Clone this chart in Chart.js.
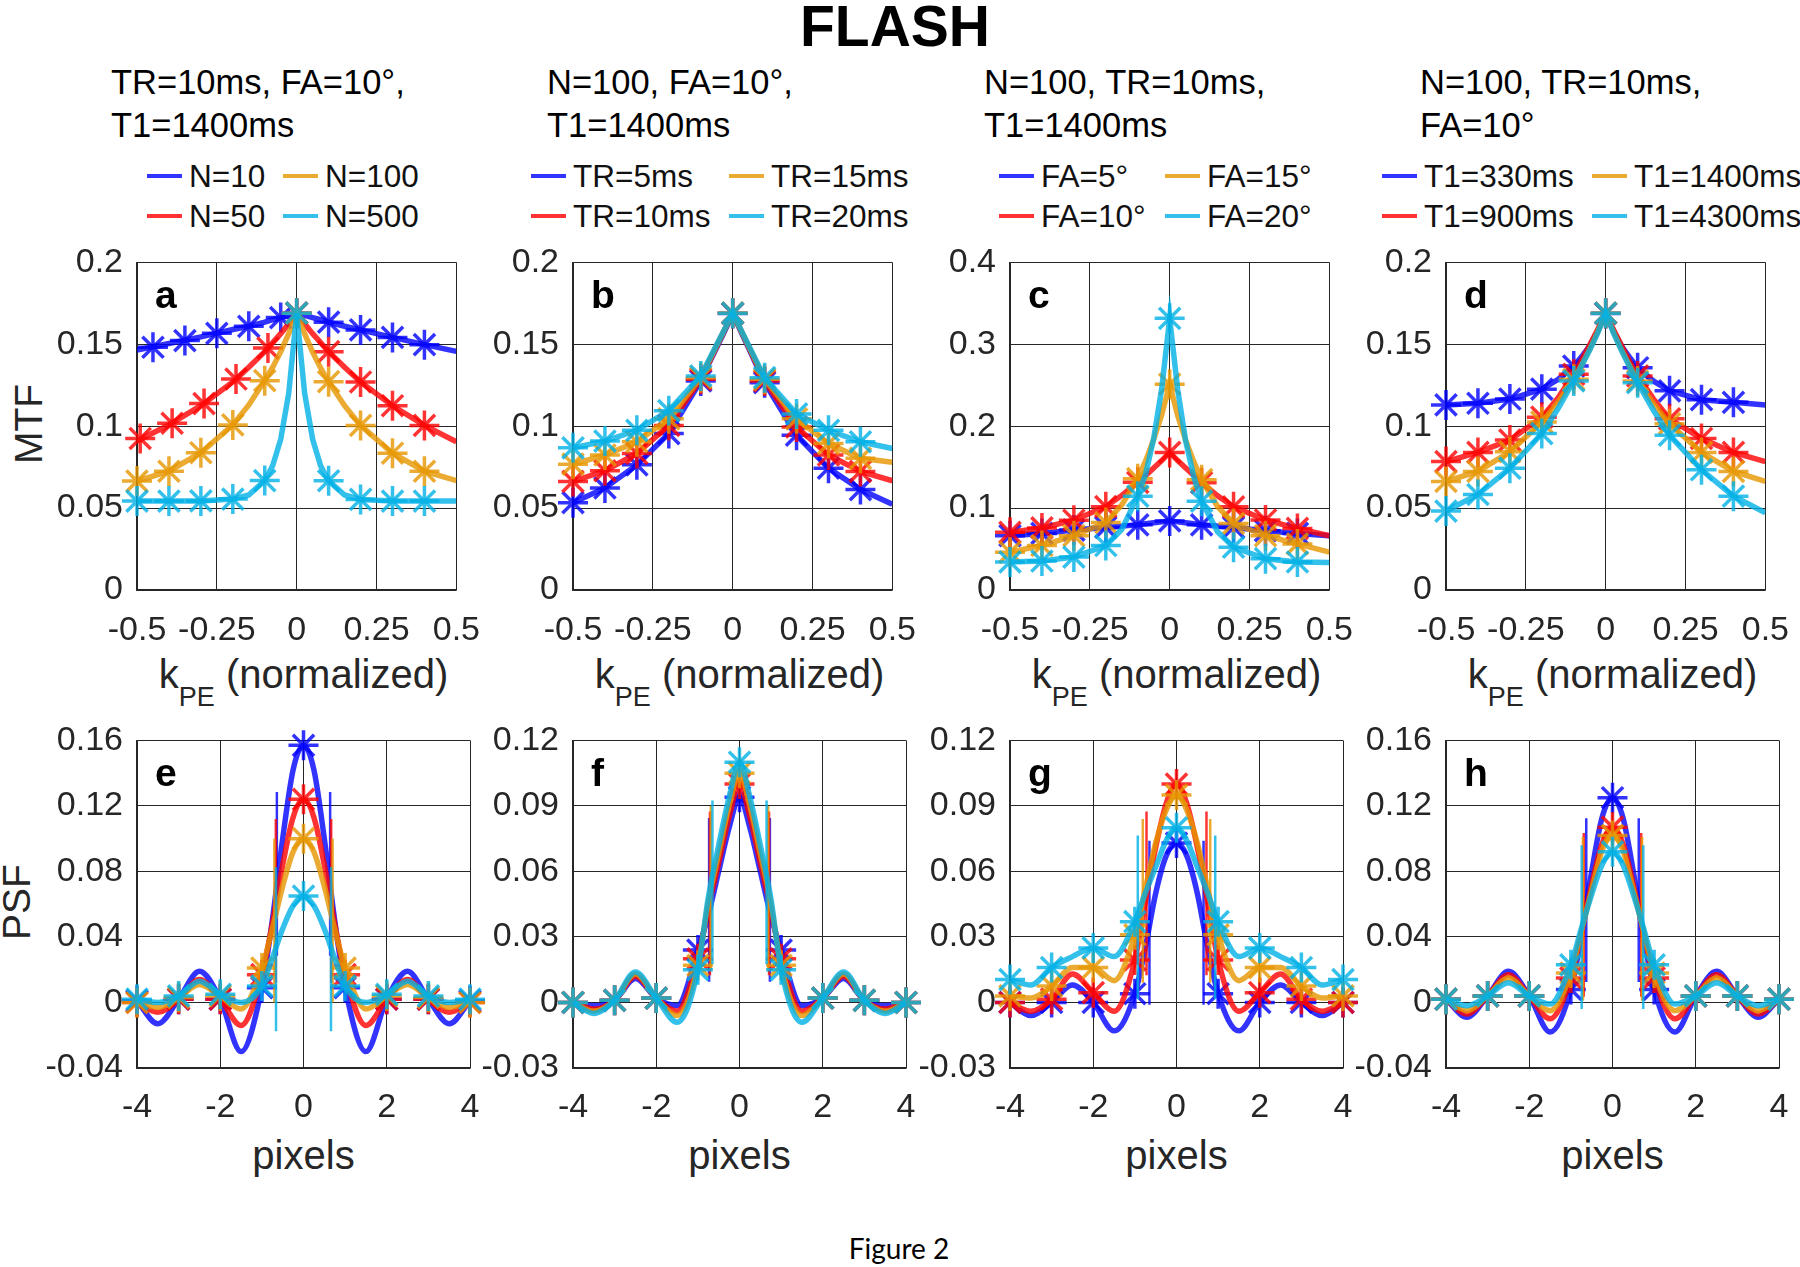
<!DOCTYPE html>
<html>
<head>
<meta charset="utf-8">
<script src="https://cdn.jsdelivr.net/npm/chart.js@4.4.1/dist/chart.umd.min.js"></script>
<style>
html, body { margin: 0; padding: 0; background: #fff; }
body { width: 1800px; height: 1267px; position: relative; overflow: hidden; font-family: "Liberation Sans", Arial, sans-serif; color: #000; }
.t { position: absolute; white-space: nowrap; line-height: 1; }
canvas { position: absolute; }
</style>
</head>
<body>
<script>
// sample positions
const kGrid = [-0.5, -0.4, -0.3, -0.2, -0.15, -0.1, -0.075, -0.05, -0.025, 0, 0.025, 0.05, 0.075, 0.1, 0.15, 0.2, 0.3, 0.4, 0.5];
const kMarks = [-0.5, -0.4, -0.3, -0.2, -0.1, 0, 0.1, 0.2, 0.3, 0.4];
const pxGrid = [-4, -3.5, -3, -2.5, -2, -1.5, -1, -0.75, -0.5, -0.25, 0, 0.25, 0.5, 0.75, 1, 1.5, 2, 2.5, 3, 3.5, 4];
const pxMarks = [-4, -3, -2, -1, 0, 1, 2, 3, 4];

// tick labels
const mtfXTicks = [-0.5, -0.25, 0, 0.25, 0.5];
const psfXTicks = [-4, -2, 0, 2, 4];
const mtfYTicks = [0, 0.05, 0.1, 0.15, 0.2];
const mtfYTicksC = [0, 0.1, 0.2, 0.3, 0.4];
const psfYTicks = [-0.04, 0, 0.04, 0.08, 0.12, 0.16];
const psfYTicksFG = [-0.03, 0, 0.03, 0.06, 0.09, 0.12];

// legend labels and panel headers
const labelsA = ['N=10', 'N=50', 'N=100', 'N=500'];
const labelsB = ['TR=5ms', 'TR=10ms', 'TR=15ms', 'TR=20ms'];
const labelsC = ['FA=5°', 'FA=10°', 'FA=15°', 'FA=20°'];
const labelsD = ['T1=330ms', 'T1=900ms', 'T1=1400ms', 'T1=4300ms'];
const headA = ['TR=10ms, FA=10°,', 'T1=1400ms'];
const headB = ['N=100, FA=10°,', 'T1=1400ms'];
const headC = ['N=100, TR=10ms,', 'T1=1400ms'];
const headD = ['N=100, TR=10ms,', 'FA=10°'];

// a: MTF vs N
const mtfA_N10 = [0.1465, 0.1505, 0.1545, 0.159, 0.161, 0.1635, 0.165, 0.1663, 0.1677, 0.169, 0.1677, 0.1663, 0.165, 0.1635, 0.161, 0.1588, 0.1542, 0.1498, 0.1457];
const mtfA_N50 = [0.091, 0.1008, 0.1125, 0.127, 0.136, 0.1455, 0.151, 0.1565, 0.1625, 0.169, 0.1625, 0.1565, 0.151, 0.1455, 0.136, 0.127, 0.1125, 0.1005, 0.0905];
const mtfA_N100 = [0.0665, 0.0725, 0.0838, 0.1008, 0.113, 0.1278, 0.136, 0.1455, 0.1565, 0.169, 0.1563, 0.1452, 0.1355, 0.1272, 0.1125, 0.1005, 0.0835, 0.0725, 0.0668];
const mtfA_N500 = [0.0543, 0.0543, 0.0544, 0.0555, 0.058, 0.0668, 0.076, 0.092, 0.12, 0.169, 0.12, 0.092, 0.0758, 0.0667, 0.058, 0.0553, 0.0543, 0.0543, 0.0543];
const markA_N10_k = [-0.45, -0.35, -0.25, -0.15, -0.05, 0, 0.1, 0.2, 0.3, 0.4];
const markA_N10 = [0.1482, 0.1523, 0.1567, 0.161, 0.1663, 0.169, 0.1635, 0.1588, 0.1542, 0.1498];
const markA_N50_k = [-0.49, -0.39, -0.29, -0.19, -0.09, 0, 0.1, 0.2, 0.3, 0.4];
const markA_N50 = [0.0925, 0.1018, 0.1138, 0.1288, 0.1477, 0.169, 0.1455, 0.127, 0.1125, 0.1005];

// b: MTF vs TR
const mtfB_TR5 = [0.0533, 0.0623, 0.0764, 0.0955, 0.1115, 0.1276, 0.138, 0.148, 0.158, 0.1688, 0.158, 0.1477, 0.137, 0.1266, 0.1105, 0.0945, 0.0744, 0.0613, 0.0523];
const mtfB_TR10 = [0.0663, 0.0728, 0.0834, 0.1005, 0.1145, 0.1286, 0.1387, 0.1488, 0.1589, 0.169, 0.1587, 0.1483, 0.138, 0.1276, 0.1135, 0.0995, 0.0824, 0.0724, 0.0667];
const mtfB_TR15 = [0.0768, 0.0824, 0.0905, 0.1045, 0.117, 0.1296, 0.1394, 0.1493, 0.1591, 0.169, 0.1589, 0.1488, 0.1387, 0.1286, 0.1165, 0.1045, 0.0894, 0.0804, 0.078];
const mtfB_TR20 = [0.0868, 0.0909, 0.0975, 0.1095, 0.12, 0.1307, 0.1403, 0.1498, 0.1594, 0.169, 0.1592, 0.1493, 0.1395, 0.1296, 0.1185, 0.1075, 0.0975, 0.0905, 0.0864];

// c: MTF vs FA
const mtfC_FA5 = [0.0663, 0.0691, 0.0732, 0.0764, 0.078, 0.0796, 0.0808, 0.082, 0.0832, 0.0844, 0.0832, 0.082, 0.0808, 0.0796, 0.078, 0.0764, 0.0724, 0.0691, 0.0663];
const mtfC_FA10 = [0.0705, 0.0758, 0.0852, 0.1018, 0.1155, 0.1315, 0.14, 0.149, 0.158, 0.168, 0.158, 0.149, 0.14, 0.131, 0.115, 0.1015, 0.0855, 0.0752, 0.0663];
const mtfC_FA15 = [0.0462, 0.0543, 0.0663, 0.0824, 0.104, 0.1359, 0.158, 0.184, 0.214, 0.2513, 0.213, 0.183, 0.157, 0.1347, 0.102, 0.0812, 0.0663, 0.0563, 0.0462];
const mtfC_FA20 = [0.0342, 0.0354, 0.0402, 0.0543, 0.074, 0.1146, 0.142, 0.185, 0.246, 0.3317, 0.245, 0.182, 0.139, 0.1085, 0.071, 0.0523, 0.0382, 0.0342, 0.0335];

// d: MTF vs T1
const mtfD_T330 = [0.113, 0.114, 0.1166, 0.1226, 0.1285, 0.1367, 0.1425, 0.149, 0.158, 0.1688, 0.158, 0.1488, 0.142, 0.1357, 0.1275, 0.1216, 0.1162, 0.1146, 0.113];
const mtfD_T900 = [0.0784, 0.084, 0.0915, 0.1055, 0.117, 0.1317, 0.1405, 0.1495, 0.159, 0.169, 0.1587, 0.149, 0.1395, 0.1307, 0.1165, 0.1045, 0.0925, 0.084, 0.0784];
const mtfD_T1400 = [0.0663, 0.0724, 0.0844, 0.1025, 0.1145, 0.1286, 0.1375, 0.147, 0.1575, 0.169, 0.1572, 0.1465, 0.137, 0.1276, 0.1135, 0.1015, 0.084, 0.0724, 0.0663];
const mtfD_T4300 = [0.0482, 0.0583, 0.0744, 0.0955, 0.1105, 0.1276, 0.137, 0.1465, 0.157, 0.169, 0.1567, 0.146, 0.1362, 0.1266, 0.1095, 0.0945, 0.0734, 0.0573, 0.0472];

// e: PSF vs N
const psfE_N10 = [0.001, -0.013, 0.002, 0.019, 0.002, -0.03, 0.009, 0.05, 0.1, 0.142, 0.157, 0.142, 0.1, 0.05, 0.009, -0.03, 0.002, 0.019, 0.002, -0.013, 0.001];
const psfE_N50 = [0, -0.006, 0.002, 0.014, 0.002, -0.014, 0.017, 0.048, 0.084, 0.113, 0.124, 0.113, 0.084, 0.048, 0.017, -0.014, 0.002, 0.014, 0.002, -0.006, 0];
const psfE_N100 = [0, -0.003, 0.003, 0.011, 0.004, -0.004, 0.021, 0.045, 0.071, 0.092, 0.1, 0.092, 0.071, 0.045, 0.021, -0.004, 0.004, 0.011, 0.003, -0.003, 0];
const psfE_N500 = [0.002, 0, 0.004, 0.013, 0.005, 0, 0.01, 0.027, 0.045, 0.059, 0.065, 0.059, 0.045, 0.027, 0.01, 0, 0.005, 0.013, 0.004, 0, 0.002];
const fwhmE_x = [0.64, 0.665, 0.7, 0.66];
const fwhmE_lo = [0.0285, 0.012, 0, -0.0175];
const fwhmE_hi = [0.1285, 0.112, 0.1, 0.0825];

// f: PSF vs TR
const psfF_TR5 = [0, -0.0015, 0.001, 0.011, 0.002, -0.0015, 0.024, 0.04, 0.06, 0.08, 0.094, 0.08, 0.06, 0.04, 0.024, -0.0015, 0.002, 0.011, 0.001, -0.0015, 0];
const psfF_TR10 = [0, -0.003, 0.001, 0.012, 0.002, -0.004, 0.02, 0.043, 0.064, 0.085, 0.1, 0.085, 0.064, 0.043, 0.02, -0.004, 0.002, 0.012, 0.001, -0.003, 0];
const psfF_TR15 = [0, -0.004, 0.001, 0.013, 0.002, -0.006, 0.017, 0.046, 0.068, 0.09, 0.105, 0.09, 0.068, 0.046, 0.017, -0.006, 0.002, 0.013, 0.001, -0.004, 0];
const psfF_TR20 = [0, -0.005, 0.001, 0.014, 0.002, -0.009, 0.015, 0.048, 0.072, 0.094, 0.11, 0.094, 0.072, 0.048, 0.015, -0.009, 0.002, 0.014, 0.001, -0.005, 0];
const fwhmF_x = [0.73, 0.71, 0.69, 0.65];
const fwhmF_lo = [0.0095, 0.0125, 0.015, 0.0175];
const fwhmF_hi = [0.0845, 0.0875, 0.09, 0.0925];

// g: PSF vs FA
const psfG_FA5 = [0, -0.006, 0, 0.008, 0, -0.013, 0.004, 0.025, 0.05, 0.067, 0.073, 0.067, 0.05, 0.025, 0.004, -0.013, 0, 0.008, 0, -0.006, 0];
const psfG_FA10 = [0, -0.004, 0.0015, 0.013, 0.0045, -0.004, 0.0195, 0.046, 0.071, 0.091, 0.1, 0.091, 0.071, 0.046, 0.0195, -0.004, 0.0045, 0.013, 0.0015, -0.004, 0];
const psfG_FA15 = [0.003, 0.002, 0.0075, 0.016, 0.016, 0.01, 0.031, 0.052, 0.073, 0.088, 0.095, 0.088, 0.073, 0.052, 0.031, 0.01, 0.016, 0.016, 0.0075, 0.002, 0.003];
const psfG_FA20 = [0.0105, 0.008, 0.016, 0.021, 0.025, 0.021, 0.037, 0.05, 0.062, 0.074, 0.08, 0.074, 0.062, 0.05, 0.037, 0.021, 0.025, 0.021, 0.016, 0.008, 0.0105];
const fwhmG_x = [0.65, 0.72, 0.81, 0.93];
const fwhmG_lo = [-0.001, 0.0125, 0.009, 0.0015];
const fwhmG_hi = [0.074, 0.0875, 0.084, 0.0765];

// h: PSF vs T1
const psfH_T330 = [0.002, -0.009, 0.004, 0.019, 0.004, -0.018, 0.008, 0.04, 0.08, 0.113, 0.125, 0.113, 0.08, 0.04, 0.008, -0.018, 0.004, 0.019, 0.004, -0.009, 0.002];
const psfH_T900 = [0.002, -0.007, 0.004, 0.017, 0.004, -0.01, 0.015, 0.042, 0.072, 0.097, 0.107, 0.097, 0.072, 0.042, 0.015, -0.01, 0.004, 0.017, 0.004, -0.007, 0.002];
const psfH_T1400 = [0.002, -0.005, 0.004, 0.015, 0.004, -0.005, 0.018, 0.043, 0.069, 0.093, 0.102, 0.093, 0.069, 0.043, 0.018, -0.005, 0.004, 0.015, 0.004, -0.005, 0.002];
const psfH_T4300 = [0.002, -0.002, 0.004, 0.012, 0.004, -0.001, 0.023, 0.045, 0.066, 0.084, 0.092, 0.084, 0.066, 0.045, 0.023, -0.001, 0.004, 0.012, 0.004, -0.002, 0.002];
const fwhmH_x = [0.63, 0.69, 0.71, 0.74];
const fwhmH_lo = [0.0125, 0.0035, 0.001, -0.004];
const fwhmH_hi = [0.1125, 0.1035, 0.101, 0.096];

// styling / layout
const colors = ['rgba(0,0,255,0.8)', 'rgba(255,0,0,0.8)', 'rgba(230,150,0,0.8)', 'rgba(0,176,230,0.8)'];
const colLeft = [137, 573, 1010, 1446];
const rowTop = [258, 736];
const plotW = 333, plotH = 332;
const padL = 120, padT = 30, padR = 30, padB = 60;
const FONT = '"Liberation Sans", Arial, sans-serif';
const axisColor = '#262626';

const pts = (xs, ys) => xs.map((x, i) => ({x: x, y: ys[i]}));
const pick = (grid, vals, ks) => ks.map(k => ({x: k, y: vals[grid.indexOf(k)]}));

function text(str, left, top, size, extra) {
    const d = document.createElement('div');
    d.className = 't';
    d.style.left = left + 'px';
    d.style.top = top + 'px';
    d.style.fontSize = size + 'px';
    if (extra) Object.assign(d.style, extra);
    d.innerHTML = str;
    document.body.appendChild(d);
    return d;
}

function axis(ticks, min, max, isX, tickPad) {
    return {
        type: 'linear',
        min: min,
        max: max,
        afterBuildTicks: s => { s.ticks = ticks.map(v => ({value: v})); },
        afterFit: s => { if (isX) s.height = padB; else s.width = padL; },
        ticks: {
            font: {family: FONT, size: 34},
            color: axisColor,
            padding: tickPad,
            maxRotation: 0,
            autoSkip: false,
            callback: v => String(Number(v.toFixed(4)))
        },
        grid: {color: axisColor, lineWidth: 1, drawTicks: false},
        border: {color: axisColor, width: 1.5}
    };
}

function panel(col, row, letter, grid, lines, marks, fwhm, xTicks, yTicks, smooth) {
    const L = colLeft[col], T = rowTop[row];
    const cv = document.createElement('canvas');
    cv.width = padL + plotW + padR;
    cv.height = padT + plotH + padB;
    cv.style.left = (L - padL) + 'px';
    cv.style.top = (T - padT) + 'px';
    document.body.appendChild(cv);

    const sets = [];
    lines.forEach((vals, i) => {
        const c = colors[i];
        sets.push({
            data: pts(grid, vals), borderColor: c, borderWidth: 5.5, pointRadius: 0,
            cubicInterpolationMode: smooth ? 'monotone' : 'default', tension: 0, clip: 0
        });
        sets.push({
            data: marks[i], showLine: false, pointStyle: 'star', pointRadius: 15, pointHoverRadius: 15,
            pointBorderWidth: 3.5, pointBorderColor: c, pointBackgroundColor: c, borderColor: c, clip: false
        });
        if (fwhm) {
            const w = fwhm[0][i], lo = fwhm[1][i], hi = fwhm[2][i];
            sets.push({
                data: [{x: -w, y: lo}, {x: -w, y: hi}, {x: 0, y: null}, {x: w, y: lo}, {x: w, y: hi}],
                borderColor: c, borderWidth: 2.5, pointRadius: 0, tension: 0, spanGaps: false, clip: 0
            });
        }
    });
    sets.forEach((s, j) => { s.order = sets.length - j; });

    new Chart(cv, {
        type: 'line',
        data: {datasets: sets},
        options: {
            responsive: false,
            animation: false,
            devicePixelRatio: 1,
            events: [],
            layout: {padding: {top: padT, right: padR, left: 0, bottom: 0}},
            plugins: {legend: {display: false}, tooltip: {enabled: false}},
            scales: {
                x: axis(xTicks, xTicks[0], xTicks[xTicks.length - 1], true, row === 0 ? 20 : 19),
                y: axis(yTicks, yTicks[0], yTicks[yTicks.length - 1], false, 14)
            }
        }
    });

    text(letter, L + 18, T + 17, 39, {fontWeight: 'bold'});
    if (row === 0) {
        text('k<span style="font-size:27px;position:relative;top:18px">PE</span> (normalized)', L + plotW / 2, 654, 40,
            {transform: 'translateX(-50%)', color: axisColor});
    } else {
        text('pixels', L + plotW / 2, 1135, 40, {transform: 'translateX(-50%)', color: axisColor});
    }
}

// headers and legends
const heads = [headA, headB, headC, headD];
const legends = [labelsA, labelsB, labelsC, labelsD];
const legendX = [[147, 283], [531, 729], [999, 1165], [1382, 1592]];
heads.forEach((h, p) => {
    text(h[0], colLeft[p] - 26, 65, 34.5);
    text(h[1], colLeft[p] - 26, 108, 34.5);
});
legends.forEach((labs, p) => {
    labs.forEach((lab, i) => {
        const x = legendX[p][Math.floor(i / 2)];
        const r = i % 2;
        const ln = document.createElement('div');
        Object.assign(ln.style, {position: 'absolute', left: x + 'px', top: (174 + 40 * r) + 'px',
            width: '35px', height: '4px', background: colors[i]});
        document.body.appendChild(ln);
        text(lab, x + 42, 161 + 40 * r, 31.5, {color: '#111'});
    });
});

text('FLASH', 895, -2, 57, {fontWeight: 'bold', transform: 'translateX(-50%)'});
text('MTF', 28, 424, 39, {transform: 'translate(-50%,-50%) rotate(-90deg)', color: axisColor});
text('PSF', 16, 902, 39, {transform: 'translate(-50%,-50%) rotate(-90deg)', color: axisColor});
text('Figure 2', 899, 1234, 28, {fontFamily: 'Lato, "Open Sans", sans-serif', transform: 'translateX(-50%)'});

// MTF row
panel(0, 0, 'a', kGrid, [mtfA_N10, mtfA_N50, mtfA_N100, mtfA_N500],
    [pts(markA_N10_k, markA_N10), pts(markA_N50_k, markA_N50), pick(kGrid, mtfA_N100, kMarks), pick(kGrid, mtfA_N500, kMarks)],
    null, mtfXTicks, mtfYTicks, false);
panel(1, 0, 'b', kGrid, [mtfB_TR5, mtfB_TR10, mtfB_TR15, mtfB_TR20],
    [mtfB_TR5, mtfB_TR10, mtfB_TR15, mtfB_TR20].map(v => pick(kGrid, v, kMarks)),
    null, mtfXTicks, mtfYTicks, false);
panel(2, 0, 'c', kGrid, [mtfC_FA5, mtfC_FA10, mtfC_FA15, mtfC_FA20],
    [mtfC_FA5, mtfC_FA10, mtfC_FA15, mtfC_FA20].map(v => pick(kGrid, v, kMarks)),
    null, mtfXTicks, mtfYTicksC, false);
panel(3, 0, 'd', kGrid, [mtfD_T330, mtfD_T900, mtfD_T1400, mtfD_T4300],
    [mtfD_T330, mtfD_T900, mtfD_T1400, mtfD_T4300].map(v => pick(kGrid, v, kMarks)),
    null, mtfXTicks, mtfYTicks, false);

// PSF row
panel(0, 1, 'e', pxGrid, [psfE_N10, psfE_N50, psfE_N100, psfE_N500],
    [psfE_N10, psfE_N50, psfE_N100, psfE_N500].map(v => pick(pxGrid, v, pxMarks)),
    [fwhmE_x, fwhmE_lo, fwhmE_hi], psfXTicks, psfYTicks, true);
panel(1, 1, 'f', pxGrid, [psfF_TR5, psfF_TR10, psfF_TR15, psfF_TR20],
    [psfF_TR5, psfF_TR10, psfF_TR15, psfF_TR20].map(v => pick(pxGrid, v, pxMarks)),
    [fwhmF_x, fwhmF_lo, fwhmF_hi], psfXTicks, psfYTicksFG, true);
panel(2, 1, 'g', pxGrid, [psfG_FA5, psfG_FA10, psfG_FA15, psfG_FA20],
    [psfG_FA5, psfG_FA10, psfG_FA15, psfG_FA20].map(v => pick(pxGrid, v, pxMarks)),
    [fwhmG_x, fwhmG_lo, fwhmG_hi], psfXTicks, psfYTicksFG, true);
panel(3, 1, 'h', pxGrid, [psfH_T330, psfH_T900, psfH_T1400, psfH_T4300],
    [psfH_T330, psfH_T900, psfH_T1400, psfH_T4300].map(v => pick(pxGrid, v, pxMarks)),
    [fwhmH_x, fwhmH_lo, fwhmH_hi], psfXTicks, psfYTicks, true);
</script>
</body>
</html>
